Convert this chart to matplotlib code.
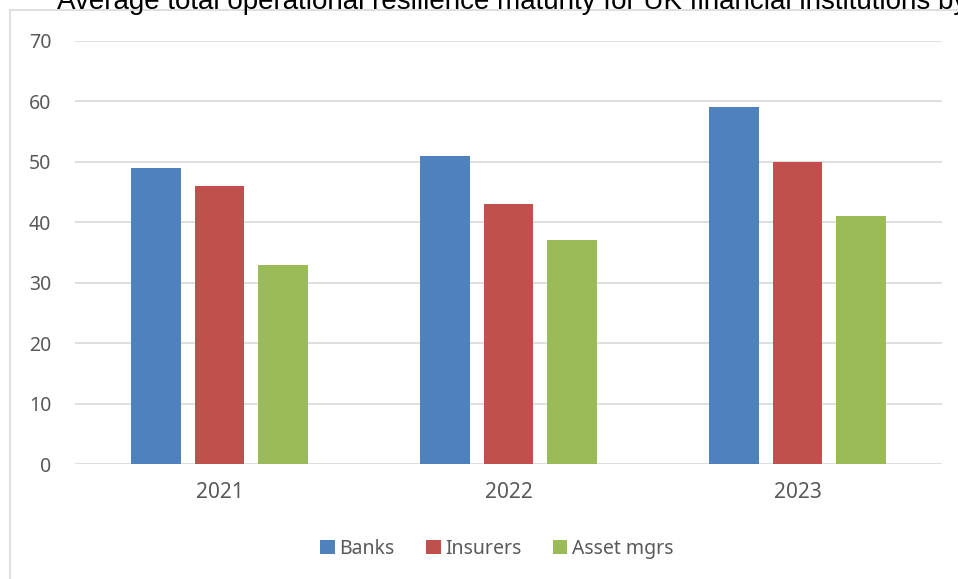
'''
grouped bars of operational resilience maturity by year and sector
'''

import matplotlib
matplotlib.use('Agg')
import matplotlib.pyplot as plt
from matplotlib.patches import Rectangle
import numpy as np

YEARS = ['2021', '2022', '2023']
BANKS = [49, 51, 59]
INSURERS = [46, 43, 50]
ASSET_MGRS = [33, 37, 41]

SERIES = [('Banks', BANKS, '#4F81BD'),
          ('Insurers', INSURERS, '#C0504D'),
          ('Asset mgrs', ASSET_MGRS, '#9BBB59')]

TITLE = 'Average total operational resilience maturity for UK financial institutions by sector'

plt.rcParams['font.family'] = ['Noto Sans', 'DejaVu Sans']

fig = plt.figure(figsize=(9.58, 5.79), dpi=100)

# light frame around the chart, running off the right and bottom edges
fig.patches.append(Rectangle((10 / 958, -0.1), 1.1, 1 + 0.1 - 10 / 579,
                             transform=fig.transFigure, fill=False,
                             edgecolor='#D9D9D9', linewidth=1.2))

ax = fig.add_axes([75 / 958, 1 - 464 / 579, 867 / 958, 423 / 579])

x = np.arange(len(YEARS))
width = 0.173
step = 0.221
for i, (name, vals, color) in enumerate(SERIES):
    ax.bar(x + (i - 1) * step, vals, width, color=color, label=name, zorder=3)

ax.set_xlim(-0.5, 2.5)
ax.set_ylim(0, 70)
ax.set_yticks(range(0, 71, 10))
ax.set_xticks(x)
ax.set_xticklabels(YEARS)
ax.tick_params(axis='y', labelsize=14, labelcolor='#595959', length=0, pad=17)
ax.tick_params(axis='x', labelsize=15, labelcolor='#595959', length=0, pad=13)
ax.grid(axis='y', color='#D9D9D9', linewidth=1.2, zorder=0)
for s in ax.spines.values():
    s.set_visible(False)

# title runs off the top and right edges as in the original;
# size it so "... institutions" ends near x=931 px
title = fig.text(57 / 958, 1 - 9 / 579, TITLE, fontsize=18, ha='left', va='baseline',
                 color='black', family=['Liberation Sans', 'DejaVu Sans'])
probe = fig.text(0, 0, TITLE.split(' by')[0], fontsize=18,
                 family=['Liberation Sans', 'DejaVu Sans'])
r = fig.canvas.get_renderer()
w = probe.get_window_extent(r).width
probe.remove()
title.set_fontsize(18 * (931 - 57) / w)

fig.legend(loc='center', bbox_to_anchor=(497 / 958, 1 - 549 / 579), ncol=3, frameon=False,
           prop={'size': 14},
           handlelength=0.75, handleheight=0.7, handletextpad=0.25, columnspacing=1.6,
           labelcolor='#595959')

fig.savefig('out.png', dpi=100)
